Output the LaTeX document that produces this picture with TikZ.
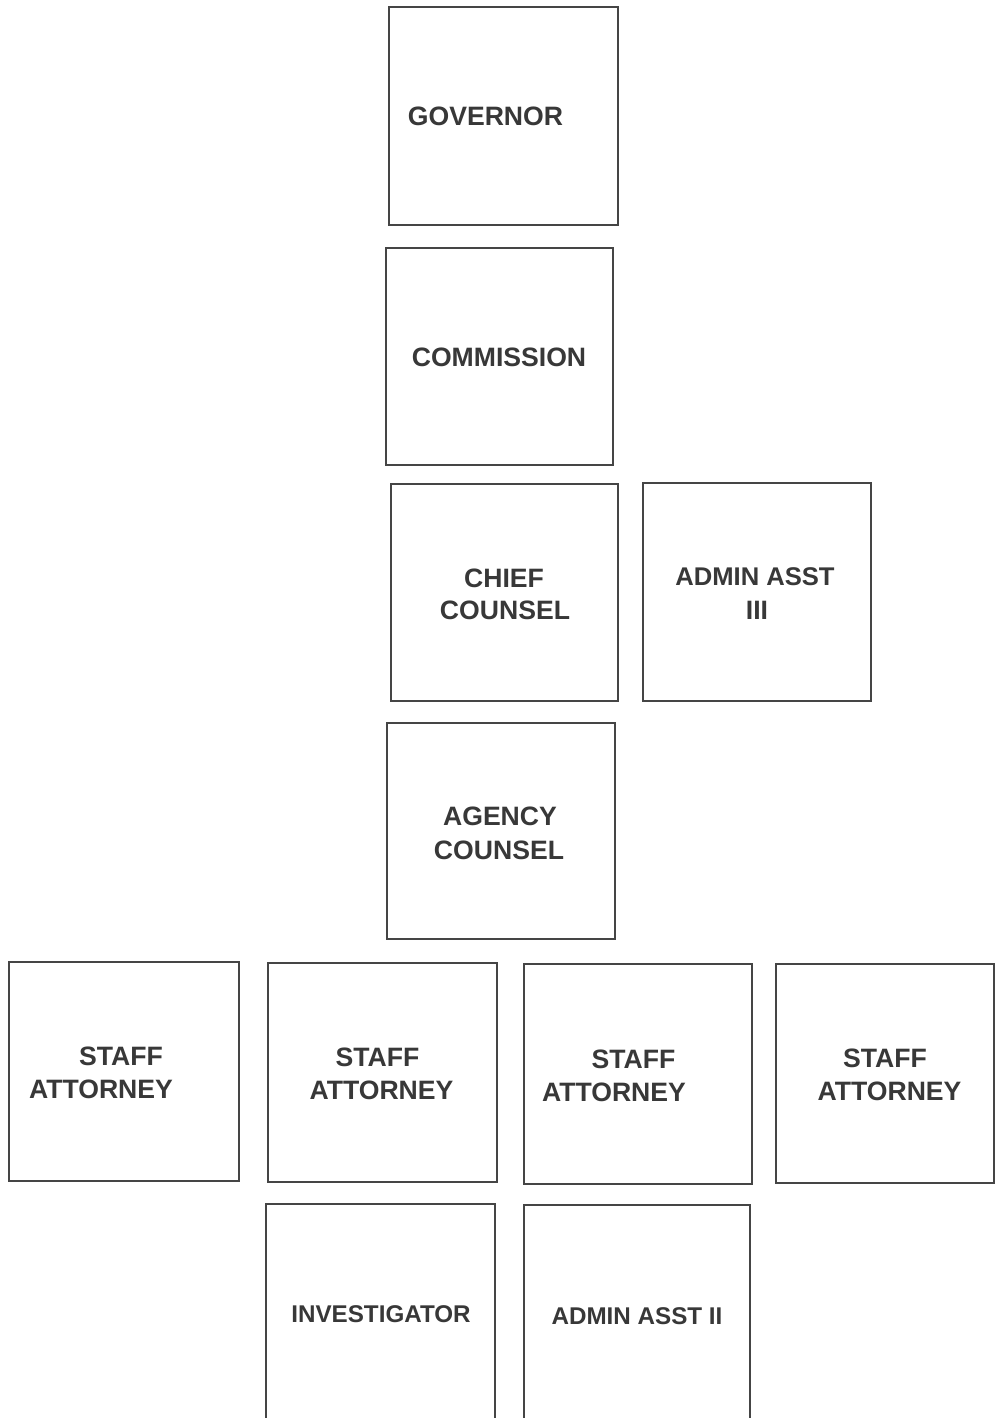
\documentclass[tikz,border=0pt]{standalone}
\usepackage{fontspec}
\setmainfont{Liberation Sans}
\definecolor{inkline}{HTML}{454545}
\definecolor{inktext}{HTML}{383838}
\begin{document}
\begin{tikzpicture}[x=1pt,y=-1pt,
  orgbox/.style={draw=inkline, line width=2.4pt, rectangle, inner sep=0pt, fill=none},
  lbl/.style={inner sep=0pt, text=inktext, font=\fontsize{26.6}{30}\selectfont\bfseries},
  lblsmall/.style={lbl, font=\fontsize{24.2}{28}\selectfont\bfseries},
  lblmid/.style={lbl, font=\fontsize{25.6}{29}\selectfont\bfseries}]
\clip (0,0) rectangle (995,1418);
\fill[white] (0,0) rectangle (995,1418);
% boxes
\node[orgbox, minimum width=229pt, minimum height=218pt] (gov) at (503.5,116) {};
\node[orgbox, minimum width=227pt, minimum height=217pt] (com) at (499.5,356.5) {};
\node[orgbox, minimum width=227pt, minimum height=217pt] (chief) at (504.5,592.5) {};
\node[orgbox, minimum width=228pt, minimum height=218pt] (aa3) at (757,592) {};
\node[orgbox, minimum width=228pt, minimum height=216pt] (agency) at (501,831) {};
\node[orgbox, minimum width=230pt, minimum height=219pt] (s1) at (124,1071.5) {};
\node[orgbox, minimum width=229pt, minimum height=219pt] (s2) at (382.5,1072.5) {};
\node[orgbox, minimum width=228pt, minimum height=220pt] (s3) at (638,1074) {};
\node[orgbox, minimum width=218pt, minimum height=219pt] (s4) at (885,1073.5) {};
\node[orgbox, minimum width=229pt, minimum height=236pt] (inv) at (380.5,1322) {};
\node[orgbox, minimum width=226pt, minimum height=235pt] (aa2) at (637,1322.5) {};
% labels
\node[lbl] (govt) at (485.5,116) {GOVERNOR};
\node[lbl] (comt) at (499,357) {COMMISSION};
\node[lbl] (chiefa) at (504,578) {CHIEF};
\node[lbl] (chiefb) at (505,610) {COUNSEL};
\node[lblmid] (aa3a) at (755,577) {ADMIN ASST};
\node[lbl] (aa3b) at (757,610) {III};
\node[lbl] (agencya) at (500,816) {AGENCY};
\node[lbl] (agencyb) at (499,850) {COUNSEL};
\node[lbl] (s1a) at (121,1056) {STAFF};
\node[lbl] (s1b) at (101,1089) {ATTORNEY};
\node[lbl] (s2a) at (377.5,1057) {STAFF};
\node[lbl] (s2b) at (381.5,1090) {ATTORNEY};
\node[lbl] (s3a) at (633.5,1059) {STAFF};
\node[lbl] (s3b) at (614,1092) {ATTORNEY};
\node[lbl] (s4a) at (885,1058) {STAFF};
\node[lbl] (s4b) at (889.5,1091) {ATTORNEY};
\node[lblsmall] (invt) at (381,1314) {INVESTIGATOR};
\node[lblsmall] (aa2t) at (637,1316) {ADMIN ASST II};
\end{tikzpicture}
\end{document}
